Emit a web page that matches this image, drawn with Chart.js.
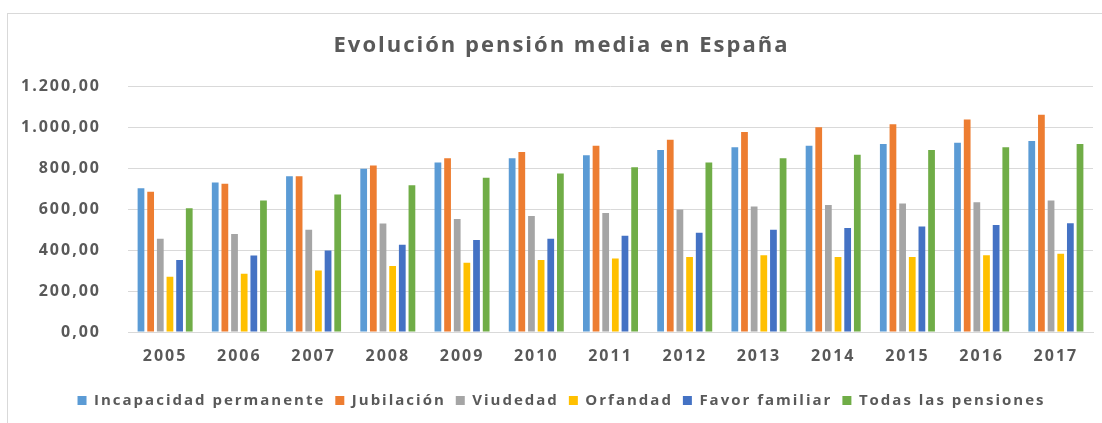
<!DOCTYPE html>
<html>
<head>
<meta charset="utf-8">
<script src="https://cdn.jsdelivr.net/npm/chart.js@4"></script>
<style>
  html,body{margin:0;padding:0;background:#fff;}
  #wrap{position:relative;width:1102px;height:423px;overflow:hidden;}
  #frame{position:absolute;left:7px;top:13px;width:1100px;height:420px;border:1px solid #d9d9d9;box-sizing:border-box;}
  canvas{position:absolute;left:0;top:0;}
</style>
</head>
<body>
<div id="wrap">
  <div id="frame"></div>
  <canvas id="c" width="1102" height="423"></canvas>
</div>
<script>
// años y pensiones medias (euros)
const years = ['2005','2006','2007','2008','2009','2010','2011','2012','2013','2014','2015','2016','2017'];
const incapacidad = [702, 731, 761, 798, 828, 849, 864, 889, 903, 910, 918, 925, 933];
const jubilacion  = [685, 724, 761, 813, 849, 879, 910, 939, 977, 1000, 1015, 1038, 1061];
const viudedad    = [456, 479, 500, 530, 552, 567, 582, 598, 613, 620, 628, 634, 643];
const orfandad    = [270, 285, 300, 323, 338, 352, 359, 367, 375, 367, 367, 375, 382];
const favorFam    = [352, 374, 398, 426, 449, 456, 470, 485, 500, 508, 516, 523, 531];
const todas       = [605, 643, 672, 717, 754, 775, 805, 828, 849, 866, 889, 903, 918];
const seriesNames = ['Incapacidad permanente','Jubilación','Viudedad','Orfandad','Favor familiar','Todas las pensiones'];
const seriesColors = ['#5B9BD5','#ED7D31','#A5A5A5','#FFC000','#4472C4','#70AD47'];

const TXT = '#595959';
const FONT = '"Open Sans", sans-serif';

// formato español: 1.200,00
function fmtEs(v){
  const s = Number(v).toFixed(2).split('.');
  return s[0].replace(/\B(?=(\d{3})+(?!\d))/g, '.') + ',' + s[1];
}

// el original tiene el texto algo ensanchado
const spacing = {
  id:'spacing',
  beforeUpdate(c){ c.ctx.letterSpacing = '2px'; },
  beforeLayout(c){ c.ctx.letterSpacing = '2px'; },
  beforeDraw(c){ c.ctx.letterSpacing = '2px'; }
};
// título y leyenda centrados un poco más a la derecha, como en el original
const shiftBoxes = {
  id:'shiftBoxes',
  afterLayout(c){
    if(c.titleBlock) c.titleBlock.left += 30;
    if(c.legend) c.legend.left += 30;
  }
};

const data = [incapacidad, jubilacion, viudedad, orfandad, favorFam, todas];

new Chart(document.getElementById('c'), {
  type:'bar',
  data:{
    labels:years,
    datasets:data.map((d,i)=>({
      label:seriesNames[i], data:d, backgroundColor:seriesColors[i],
      barPercentage:0.7, categoryPercentage:0.78, borderWidth:0
    }))
  },
  options:{
    responsive:false, animation:false,
    layout:{padding:{top:20, left:0, right:9, bottom:5}},
    plugins:{
      title:{display:true, text:'Evolución pensión media en España', color:TXT,
        font:{family:FONT, size:22, weight:'bold'}, padding:{top:13, bottom:27}},
      legend:{position:'bottom',
        labels:{color:TXT, font:{family:FONT, size:15, weight:'bold'}, boxWidth:9, boxHeight:9, padding:10}},
      tooltip:{enabled:false}
    },
    scales:{
      x:{
        grid:{display:false, drawTicks:false},
        border:{color:'#d9d9d9'},
        ticks:{color:TXT, font:{family:FONT, size:16, weight:'bold'}, padding:15},
        afterFit(s){ s.height = 51; }
      },
      y:{
        min:0, max:1200,
        grid:{color:'#d9d9d9', drawTicks:false},
        border:{display:false},
        ticks:{stepSize:200, color:TXT, font:{family:FONT, size:16, weight:'bold'}, padding:27,
          callback:v=>fmtEs(v)},
        afterFit(s){ s.width = 128; }
      }
    }
  },
  plugins:[spacing, shiftBoxes]
});
</script>
</body>
</html>
